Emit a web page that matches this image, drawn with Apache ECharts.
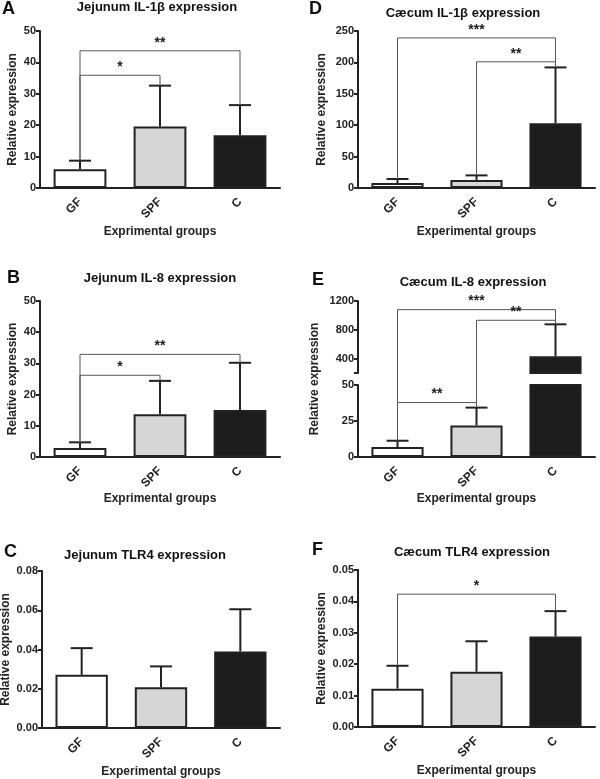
<!DOCTYPE html>
<html>
<head>
<meta charset="utf-8">
<script src="https://cdn.jsdelivr.net/npm/echarts@6/dist/echarts.min.js"></script>
<style>
html, body { margin: 0; padding: 0; background: #fff; }
#chart { width: 600px; height: 779px; }
</style>
</head>
<body>
<div id="chart"></div>
<script>
var groups = ['GF', 'SPF', 'C'];

// mean and upper error per group
var jejIL1bMean = [6.0, 19.6, 16.8];
var jejIL1bErr = [2.7, 13.0, 9.6];
var jejIL8Mean = [2.9, 13.7, 15.1];
var jejIL8Err = [1.8, 10.7, 15.1];
var jejTLR4Mean = [0.0271, 0.0208, 0.0390];
var jejTLR4Err = [0.0136, 0.0106, 0.0215];
var caeIL1bMean = [7.9, 12.7, 103];
var caeIL1bErr = [6.4, 7.4, 89];
var caeIL8Mean = [6.9, 21.9, 432];
var caeIL8Err = [4.4, 12.4, 444];
var caeTLR4Mean = [0.0122, 0.0176, 0.0288];
var caeTLR4Err = [0.0073, 0.0097, 0.0081];

// significance brackets: [from group, to group, height, foot at from, foot at to, stars]
var jejIL1bSig = [[0, 1, 35.9, 8.7, 32.6, '*'], [0, 2, 43.7, 8.7, 26.4, '**']];
var jejIL8Sig = [[0, 1, 26.2, 4.7, 24.4, '*'], [0, 2, 32.9, 4.7, 30.2, '**']];
var caeIL1bSig = [[0, 2, 239, 14.3, 201, '***'], [1, 2, 201, 20.1, 192, '**']];
var caeIL8UpperSig = [[0, 2, 1080, 200, 932, '***'], [1, 2, 932, 200, 876, '**']];
var caeIL8LowerSig = [[0, 1, 37.8, 11.3, 34.3, '**']];
var caeIL8Risers = [[0, 37.8], [1, 37.8]];   // lines that cross the axis break
var caeTLR4Sig = [[0, 2, 0.0423, 0.0195, 0.0369, '*']];

var fills = ['#ffffff', '#d6d6d6', '#1c1c1c'];
var ink = '#222';
var font = 'Liberation Sans, Arial, sans-serif';
var BREAK_GAP = 12;

var chart = echarts.init(document.getElementById('chart'));

var grids = [], xAxes = [], yAxes = [], series = [];

function renderErr(params, api) {
    var x = api.value(0);
    var base = api.coord([x, api.value(1)]);
    var top = api.coord([x, api.value(2)]);
    var st = { stroke: ink, lineWidth: 2 };
    return {
        type: 'group',
        children: [
            { type: 'line', shape: { x1: base[0], y1: base[1], x2: top[0], y2: top[1] }, style: st },
            { type: 'line', shape: { x1: top[0] - 11, y1: top[1], x2: top[0] + 11, y2: top[1] }, style: st }
        ]
    };
}

function sigRenderer(list) {
    return function (params, api) {
        var a = api.coord([api.value(0), api.value(2)]);
        var b = api.coord([api.value(1), api.value(2)]);
        var y1 = api.coord([api.value(0), api.value(3)])[1];
        var y2 = api.coord([api.value(1), api.value(4)])[1];
        return {
            type: 'group',
            children: [
                {
                    type: 'polyline',
                    shape: { points: [[a[0], y1], [a[0], a[1]], [b[0], b[1]], [b[0], y2]] },
                    style: { stroke: '#555', lineWidth: 1, fill: null }
                },
                {
                    type: 'text',
                    x: (a[0] + b[0]) / 2,
                    y: a[1] - 1,
                    style: {
                        text: list[params.dataIndex][5],
                        align: 'center', verticalAlign: 'bottom',
                        font: 'bold 14px ' + font, fill: ink
                    }
                }
            ]
        };
    };
}

function renderRiser(params, api) {
    var p = api.coord([api.value(0), api.value(1)]);
    var topY = params.coordSys.y - BREAK_GAP;
    return {
        type: 'line',
        shape: { x1: p[0], y1: p[1], x2: p[0], y2: topY },
        style: { stroke: '#555', lineWidth: 1 }
    };
}

function addPanel(p) {
    var i = grids.length;
    grids.push({ left: p.left, top: p.top, width: p.width, height: p.height, outerBoundsMode: 'none' });
    xAxes.push({
        gridIndex: i, type: 'category', data: groups, show: p.showX !== false,
        axisLine: { lineStyle: { color: ink, width: 2 } },
        axisTick: { alignWithLabel: true, length: 5, lineStyle: { color: ink, width: 2 } },
        axisLabel: { rotate: 45, margin: 12, fontSize: 12, fontWeight: 'bold', color: ink, fontFamily: font },
        name: p.xName, nameLocation: 'middle', nameGap: p.xGap || 38,
        nameTextStyle: { fontSize: 12, fontWeight: 'bold', color: ink, fontFamily: font }
    });
    var y = {
        gridIndex: i, type: 'value', min: p.min, max: p.max,
        axisLine: { show: true, lineStyle: { color: ink, width: 2 } },
        axisTick: { show: true, length: 4, lineStyle: { color: ink, width: 2 } },
        axisLabel: {
            fontSize: 11, fontWeight: 'bold', color: ink, fontFamily: font, margin: 4,
            formatter: function (v) { return p.decimals ? v.toFixed(p.decimals) : String(v); }
        },
        splitLine: { show: false },
        name: p.yName || '', nameLocation: 'middle', nameGap: p.yGap,
        nameTextStyle: { fontSize: 12, fontWeight: 'bold', color: ink, fontFamily: font }
    };
    if (p.interval) y.interval = p.interval;
    if (p.tickValues) {
        y.axisTick.customValues = p.tickValues;
        y.axisLabel.customValues = p.labelValues;
    }
    yAxes.push(y);

    series.push({
        type: 'bar', xAxisIndex: i, yAxisIndex: i, barWidth: '66%', clip: true,
        itemStyle: { borderColor: ink, borderWidth: 2 },
        data: p.mean.map(function (v, k) { return { value: v, itemStyle: { color: fills[k] } }; }),
        silent: true
    });
    series.push({
        type: 'custom', xAxisIndex: i, yAxisIndex: i, clip: true, z: 3,
        renderItem: renderErr,
        data: p.mean.map(function (v, k) { return [k, v, v + p.err[k]]; })
    });
    if (p.sig) {
        series.push({
            type: 'custom', xAxisIndex: i, yAxisIndex: i, clip: false, z: 4,
            renderItem: sigRenderer(p.sig),
            data: p.sig.map(function (s) { return s.slice(0, 5); })
        });
    }
    if (p.risers) {
        series.push({
            type: 'custom', xAxisIndex: i, yAxisIndex: i, clip: false, z: 4,
            renderItem: renderRiser,
            data: p.risers
        });
    }
}

// A
addPanel({ left: 40, top: 31, width: 240, height: 157, min: 0, max: 50, interval: 10,
    mean: jejIL1bMean, err: jejIL1bErr, sig: jejIL1bSig,
    xName: 'Exprimental groups', yName: 'Relative expression', yGap: 21 });
// D
addPanel({ left: 358, top: 31, width: 237, height: 157, min: 0, max: 250, interval: 50,
    mean: caeIL1bMean, err: caeIL1bErr, sig: caeIL1bSig,
    xName: 'Experimental groups', yName: 'Relative expression', yGap: 30 });
// B
addPanel({ left: 40, top: 301, width: 240, height: 156, min: 0, max: 50, interval: 10,
    mean: jejIL8Mean, err: jejIL8Err, sig: jejIL8Sig,
    xName: 'Exprimental groups', xGap: 36, yName: 'Relative expression', yGap: 21 });
// E lower part
addPanel({ left: 358, top: 385, width: 237, height: 72, min: 0, max: 50, interval: 25,
    mean: caeIL8Mean, err: caeIL8Err, sig: caeIL8LowerSig, risers: caeIL8Risers,
    xName: 'Experimental groups', xGap: 36 });
// E upper part
addPanel({ left: 358, top: 301, width: 237, height: 72, min: 200, max: 1200,
    tickValues: [200, 400, 800, 1200], labelValues: [400, 800, 1200], showX: false,
    mean: caeIL8Mean, err: caeIL8Err, sig: caeIL8UpperSig });
// C
addPanel({ left: 42, top: 571, width: 238, height: 157, min: 0, max: 0.08, interval: 0.02, decimals: 2,
    mean: jejTLR4Mean, err: jejTLR4Err,
    xName: 'Experimental groups', yName: 'Relative expression', yGap: 30 });
// F
addPanel({ left: 358, top: 570, width: 237, height: 157, min: 0, max: 0.05, interval: 0.01, decimals: 2,
    mean: caeTLR4Mean, err: caeTLR4Err, sig: caeTLR4Sig,
    xName: 'Experimental groups', yName: 'Relative expression', yGap: 30 });

function heading(text, left, top) {
    return { text: text, left: left, top: top, textAlign: 'center', padding: 0,
        textStyle: { fontSize: 13, fontWeight: 'bold', color: '#111', fontFamily: font } };
}
function letter(text, left, top) {
    return { text: text, left: left, top: top, padding: 0,
        textStyle: { fontSize: 18, fontWeight: 'bold', color: '#111', fontFamily: font } };
}

var option = {
    animation: false,
    backgroundColor: '#fff',
    title: [
        letter('A', 2, 0), heading('Jejunum IL-1β expression', 157, 1),
        letter('D', 309, 0), heading('Cæcum IL-1β expression', 463, 7),
        letter('B', 7, 269), heading('Jejunum IL-8 expression', 160, 272),
        letter('E', 312, 271), heading('Cæcum IL-8 expression', 473, 276),
        letter('C', 4, 543), heading('Jejunum TLR4 expression', 145, 549),
        letter('F', 312, 541), heading('Cæcum TLR4 expression', 472, 546)
    ],
    grid: grids,
    xAxis: xAxes,
    yAxis: yAxes,
    series: series,
    graphic: [{
        type: 'text', x: 315, y: 379, rotation: Math.PI / 2,
        style: { text: 'Relative expression', align: 'center', verticalAlign: 'middle',
            font: 'bold 12px ' + font, fill: ink }
    }]
};

chart.setOption(option);
</script>
</body>
</html>
